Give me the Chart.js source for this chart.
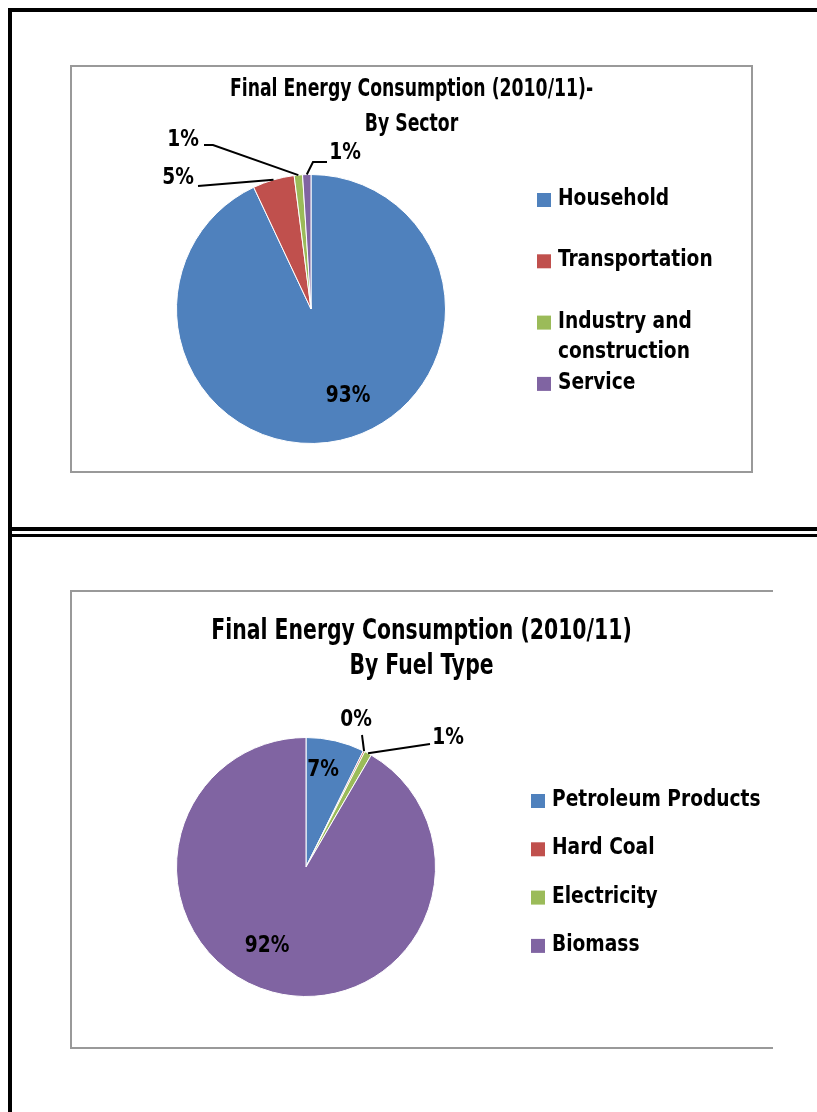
<!DOCTYPE html>
<html>
<head>
<meta charset="utf-8">
<script src="https://cdn.jsdelivr.net/npm/chart.js@4.4.0/dist/chart.umd.min.js"></script>
<style>
  body { margin: 0; background: #fff; }
  #page { position: relative; width: 817px; height: 1112px; overflow: hidden; background: #fff; }
  .bar { position: absolute; background: #000; }
  .box { position: absolute; box-sizing: border-box; border: 2px solid #999; }
  canvas { position: absolute; }
</style>
</head>
<body>
<div id="page">
  <div class="bar" style="left:8px;top:8px;width:4px;height:1112px"></div>
  <div class="bar" style="left:8px;top:8px;width:809px;height:4px"></div>
  <div class="bar" style="left:8px;top:527px;width:809px;height:4px"></div>
  <div class="bar" style="left:8px;top:534px;width:809px;height:3px"></div>

  <div class="box" style="left:70px;top:65px;width:683px;height:408px"></div>
  <div class="box" style="left:70px;top:590px;width:703px;height:459px;border-right:none"></div>

  <canvas id="sectorChart" width="683" height="408" style="left:70px;top:65px"></canvas>
  <canvas id="fuelChart" width="703" height="459" style="left:70px;top:590px"></canvas>
</div>
<script>
// chart 1 - by sector
const sectorLabels = ["Household", "Transportation", "Industry and construction", "Service"];
const sectorValues = [93, 5, 1, 1];
const sectorTitle = ["Final Energy Consumption (2010/11)-", "By Sector"];

// chart 2 - by fuel type
const fuelLabels = ["Petroleum Products", "Hard Coal", "Electricity", "Biomass"];
const fuelValues = [7.3, 0.2, 0.9, 91.6];
const fuelTitle = ["Final Energy Consumption (2010/11)", "By Fuel Type"];

const colors = ["#4F81BD", "#C0504D", "#9BBB59", "#8064A2"];
const FONT = '"DejaVu Sans Condensed", "Liberation Sans", sans-serif';

// where the % labels sit, relative to the pie centre, plus leader line points
const sectorLabelPos = [
  { x: 37, y: 87 },
  { x: -133, y: -131, line: [[-113, -123]] },
  { x: -128, y: -169, line: [[-98, -164], [-107, -164]] },
  { x: 34, y: -156, line: [[2, -147], [16, -147]] }
];
const fuelLabelPos = [
  { x: 17, y: -97 },
  { x: 50, y: -147, line: [[56, -132]] },
  { x: 142, y: -129, line: [[124, -123]] },
  { x: -39, y: 79 }
];

// the original uses a narrow font, so squeeze the text a bit
function narrowText(ctx, text, x, y, sx) {
  ctx.save();
  ctx.translate(x, y);
  ctx.scale(sx, 1);
  ctx.fillText(text, 0, 0);
  ctx.restore();
}

function wrapText(ctx, text, maxWidth) {
  const words = text.split(" ");
  const lines = [];
  let cur = "";
  words.forEach(w => {
    const test = cur ? cur + " " + w : w;
    if (ctx.measureText(test).width > maxWidth && cur) {
      lines.push(cur);
      cur = w;
    } else {
      cur = test;
    }
  });
  if (cur) lines.push(cur);
  return lines;
}

// draws title, percentage labels, leader lines and legend
const decorPlugin = {
  id: "decor",
  afterDraw(chart, args, opts) {
    const ctx = chart.ctx;
    const data = chart.data.datasets[0].data;
    const total = data.reduce((a, b) => a + b, 0);
    const arcs = chart.getDatasetMeta(0).data;
    ctx.save();
    ctx.fillStyle = "#000";
    ctx.textAlign = "center";
    ctx.textBaseline = "middle";

    // title
    ctx.font = "bold " + opts.titleSize + "px " + FONT;
    opts.title.forEach((t, i) => {
      narrowText(ctx, t, chart.width / 2, opts.titleY + i * opts.titleGap, opts.titleSx);
    });

    // slice labels
    ctx.font = "bold " + opts.labelSize + "px " + FONT;
    ctx.strokeStyle = "#000";
    ctx.lineWidth = 2;
    arcs.forEach((arc, i) => {
      const p = opts.labelPos[i];
      const cx = arc.x, cy = arc.y;
      if (p.line) {
        const mid = (arc.startAngle + arc.endAngle) / 2;
        ctx.beginPath();
        ctx.moveTo(cx + Math.cos(mid) * arc.outerRadius, cy + Math.sin(mid) * arc.outerRadius);
        p.line.forEach(pt => ctx.lineTo(cx + pt[0], cy + pt[1]));
        ctx.stroke();
      }
      const pct = Math.round(data[i] / total * 100) + "%";
      narrowText(ctx, pct, cx + p.x, cy + p.y, 0.9);
    });

    // legend
    ctx.font = "bold " + opts.legendSize + "px " + FONT;
    ctx.textAlign = "left";
    chart.data.labels.forEach((lab, i) => {
      const y = opts.legendY + i * opts.legendStep;
      ctx.fillStyle = colors[i];
      ctx.fillRect(opts.legendX, y - 6, 14, 14);
      ctx.fillStyle = "#000";
      wrapText(ctx, lab, opts.legendWrap).forEach((ln, j) => {
        narrowText(ctx, ln, opts.legendX + 21, y + j * 30, 0.9);
      });
    });
    ctx.restore();
  }
};

function makePie(canvasId, labels, values, padding, decor) {
  return new Chart(document.getElementById(canvasId), {
    type: "pie",
    data: {
      labels: labels,
      datasets: [{
        data: values,
        backgroundColor: colors,
        borderColor: "#fff",
        borderWidth: 1
      }]
    },
    options: {
      responsive: false,
      animation: false,
      devicePixelRatio: 1,
      layout: { padding: padding },
      plugins: {
        legend: { display: false },
        tooltip: { enabled: false },
        title: { display: false },
        decor: decor
      }
    },
    plugins: [decorPlugin]
  });
}

makePie("sectorChart", sectorLabels, sectorValues,
  { left: 106, top: 109, right: 307, bottom: 29 },
  {
    title: sectorTitle, titleSize: 24, titleSx: 0.8, titleY: 25, titleGap: 35,
    labelPos: sectorLabelPos, labelSize: 23,
    legendX: 467, legendY: 134, legendStep: 61.3, legendSize: 23, legendWrap: 190
  });

makePie("fuelChart", fuelLabels, fuelValues,
  { left: 106, top: 147, right: 337, bottom: 52 },
  {
    title: fuelTitle, titleSize: 28, titleSx: 0.81, titleY: 42, titleGap: 35,
    labelPos: fuelLabelPos, labelSize: 23,
    legendX: 461, legendY: 210, legendStep: 48.3, legendSize: 23, legendWrap: 280
  });
</script>
</body>
</html>
